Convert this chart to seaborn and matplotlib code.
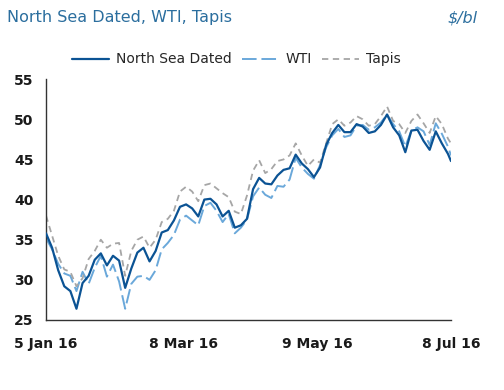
import pandas as pd
import numpy as np
import matplotlib
matplotlib.use('Agg')
import matplotlib.pyplot as plt
import seaborn as sns

sns.set_style("white")
plt.rcParams['font.family'] = ['DejaVu Sans']

# business-day positions (every 2nd trading day, 5 Jan 16 .. 8 Jul 16)
day_index = list(range(0, 134, 2)) + [133]

north_sea = [35.8, 34.0, 31.2, 29.2, 28.6, 26.4, 29.6, 30.5, 32.5, 33.3,
             31.8, 33.0, 32.4, 29.0, 31.4, 33.4, 34.0, 32.3, 33.6, 35.9,
             36.2, 37.4, 39.1, 39.4, 38.9, 37.9, 40.0, 40.1, 39.4, 37.9,
             38.6, 36.5, 36.8, 37.6, 41.3, 42.7, 42.0, 41.9, 43.0, 43.7,
             43.9, 45.6, 44.5, 43.8, 42.8, 44.0, 46.8, 48.3, 49.3, 48.4,
             48.4, 49.4, 49.1, 48.3, 48.5, 49.3, 50.6, 49.0, 48.0, 45.9,
             48.6, 48.7, 47.3, 46.2, 48.5, 47.0, 45.7, 44.8]

wti = [35.2, 33.8, 32.0, 30.8, 30.5, 28.6, 31.0, 29.5, 31.5, 33.0,
       30.4, 31.9, 29.8, 26.4, 29.5, 30.4, 30.5, 30.0, 31.2, 33.8,
       34.6, 35.6, 37.5, 38.0, 37.4, 36.8, 39.2, 39.6, 38.6, 37.2,
       38.2, 35.8, 36.5, 37.5, 40.4, 41.5, 40.6, 40.2, 41.7, 41.6,
       42.5, 45.2, 44.0, 43.2, 42.6, 44.3, 46.5, 48.0, 48.8, 47.8,
       48.0, 49.2, 49.3, 48.7, 49.0, 49.6, 50.6, 49.4, 48.5, 46.6,
       48.6, 49.0, 48.5, 46.8, 49.5, 48.2, 46.6, 45.5]

tapis = [38.0, 35.5, 33.0, 31.3, 31.0, 29.2, 30.2, 32.6, 33.6, 35.0,
         34.0, 34.5, 34.6, 30.5, 33.6, 35.0, 35.4, 34.0, 35.0, 37.2,
         37.6, 38.6, 41.0, 41.6, 41.0, 39.8, 41.8, 42.0, 41.4, 40.8,
         40.3, 38.5, 38.2, 40.5, 43.6, 44.9, 43.3, 43.8, 44.8, 45.0,
         45.5, 47.0, 45.5, 44.2, 45.0, 44.6, 47.0, 49.4, 50.0, 49.2,
         49.6, 50.4, 50.0, 49.2, 49.4, 50.4, 51.6, 49.8, 49.4, 48.3,
         49.8, 50.6, 49.5, 48.3, 50.4, 49.4, 47.6, 47.0]

tick_pos = [0, 45, 89, 133]
tick_labels = ['5 Jan 16', '8 Mar 16', '9 May 16', '8 Jul 16']

df = pd.DataFrame({'day': day_index, 'North Sea Dated': north_sea,
                   'WTI': wti, 'Tapis': tapis})

fig = plt.figure(figsize=(5.04, 3.90), dpi=100)
ax = fig.add_axes([0.0913, 0.1795, 0.8035, 0.6175])

sns.lineplot(data=df, x='day', y='North Sea Dated', ax=ax, color='#0b5394',
             linewidth=1.6, label='North Sea Dated')
sns.lineplot(data=df, x='day', y='WTI', ax=ax, color='#6aa8da',
             linewidth=1.4, label='WTI')
ax.lines[-1].set_dashes([7.5, 2.5])
sns.lineplot(data=df, x='day', y='Tapis', ax=ax, color='#a6a6a6',
             linewidth=1.3, label='Tapis')
ax.lines[-1].set_dashes([3.5, 2.5])
# north sea drawn on top
ax.lines[0].set_zorder(5)

ax.set_xlim(0, 133)
ax.set_ylim(25, 55)
ax.set_yticks([25, 30, 35, 40, 45, 50, 55])
ax.set_xticks(tick_pos)
ax.set_xticklabels(tick_labels)
ax.set_xlabel('')
ax.set_ylabel('')

for side in ['top', 'right']:
    ax.spines[side].set_visible(False)
for side in ['left', 'bottom']:
    ax.spines[side].set_color('#333333')
    ax.spines[side].set_linewidth(1.0)
ax.tick_params(axis='y', direction='out', length=7, width=1, color='#333333',
               labelsize=10, pad=2)
ax.tick_params(axis='x', direction='out', length=8, width=1, color='#333333',
               labelsize=10, pad=4)
for lbl in ax.get_xticklabels() + ax.get_yticklabels():
    lbl.set_fontweight('bold')
    lbl.set_color('#1a1a1a')

ax.legend(loc='lower center', bbox_to_anchor=(0.47, 1.03), ncol=3,
          frameon=False, fontsize=10, handlelength=2.7, columnspacing=0.7,
          handletextpad=0.5, borderaxespad=0)

fig.text(0.014, 0.955, 'North Sea Dated, WTI, Tapis', color='#2b6e9e',
         fontsize=11.5, va='center', ha='left')
fig.text(0.948, 0.955, '\\$/bl', color='#2b6e9e', fontsize=11.5,
         style='italic', va='center', ha='right')

fig.savefig('out.png', dpi=100)
